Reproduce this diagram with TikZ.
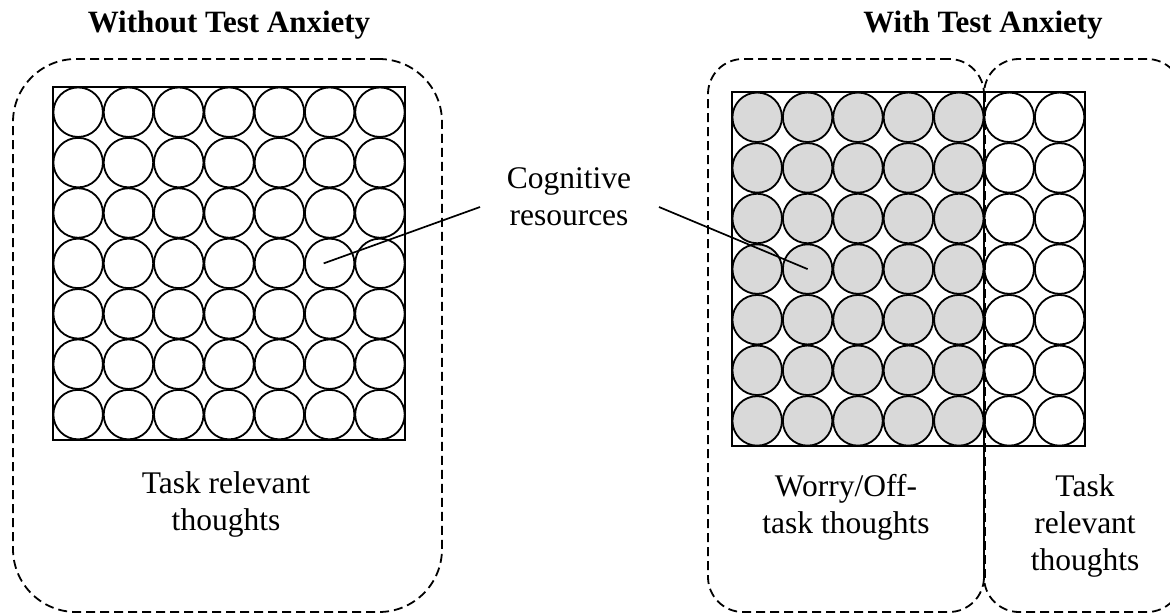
\documentclass[tikz,border=0pt]{standalone}
\usepackage{fontspec}
\setmainfont{Liberation Serif}
\begin{document}
\begin{tikzpicture}[x=1pt,y=-1pt,
  dashbox/.style={draw, line width=1.8pt, dash pattern=on 9pt off 5pt,
    rounded corners=#1, inner sep=0pt},
  resource/.style={draw, circle, line width=1.8pt, minimum size=49.5pt, inner sep=0pt},
  worry/.style={resource, fill=black!15},
  gridframe/.style={draw, line width=2pt},
  title/.style={font=\fontsize{31}{36}\selectfont\bfseries, anchor=base},
  label/.style={font=\fontsize{31.5}{37}\selectfont, align=center, anchor=base},
  pointer/.style={line width=1.7pt}]
\useasboundingbox (0,0) rectangle (1170,615);
\clip (0,0) rectangle (1170,615);

% titles
\node[title] (tleft) at (229,33) {Without Test Anxiety};
\node[title] (tright) at (983,33) {With Test Anxiety};

% dashed group outlines
\node[dashbox=63pt, minimum width=429pt, minimum height=553pt] (gleft) at (227.5,335.5) {};
\node[dashbox=35pt, minimum width=276pt, minimum height=553pt] (gworry) at (846,335.5) {};
\node[dashbox=35pt, minimum width=198pt, minimum height=553pt] (gtask) at (1083,335.5) {};

% left grid: all task relevant
\foreach \r in {0,...,6}
  \foreach \c in {0,...,6}
    \node[resource] (l-\r-\c) at ({53+25.15+50.3*\c},{87+25.2+50.4*\r}) {};
\node[gridframe, minimum width=352pt, minimum height=353pt, inner sep=0pt] (fleft) at (229,263.5) {};

% right grid: five worry columns, two task columns
\foreach \r in {0,...,6} {
  \foreach \c in {0,...,4}
    \node[worry] (r-\r-\c) at ({732+25.2+50.4*\c},{92+25.3+50.6*\r}) {};
  \foreach \c in {5,6}
    \node[resource] (r-\r-\c) at ({732+25.2+50.4*\c},{92+25.3+50.6*\r}) {};
}
\node[gridframe, minimum width=353pt, minimum height=354pt, inner sep=0pt] (fright) at (908.5,269) {};

% shared boundary redrawn over the grid
\draw[line width=1.8pt, dash pattern=on 9pt off 5pt] (gworry.north east) ++(0,35) -- ([yshift=35pt]gworry.south east);

% labels (anchored at the baseline of the last line)
\node[label] (cog) at (569,225) {Cognitive\\resources};
\node[label] (lt) at (226,530) {Task relevant\\thoughts};
\node[label] (wt) at (846,533) {Worry/Off-\\task thoughts};
\node[label] (rt) at (1085,570) {Task\\relevant\\thoughts};

% pointers
\coordinate (pl) at (480,207);
\coordinate (pr) at (659,207);
\draw[pointer] (pl) -- ([xshift=-6pt]l-3-5.center);
\draw[pointer] (pr) -- (r-3-1.center);
\end{tikzpicture}
\end{document}
